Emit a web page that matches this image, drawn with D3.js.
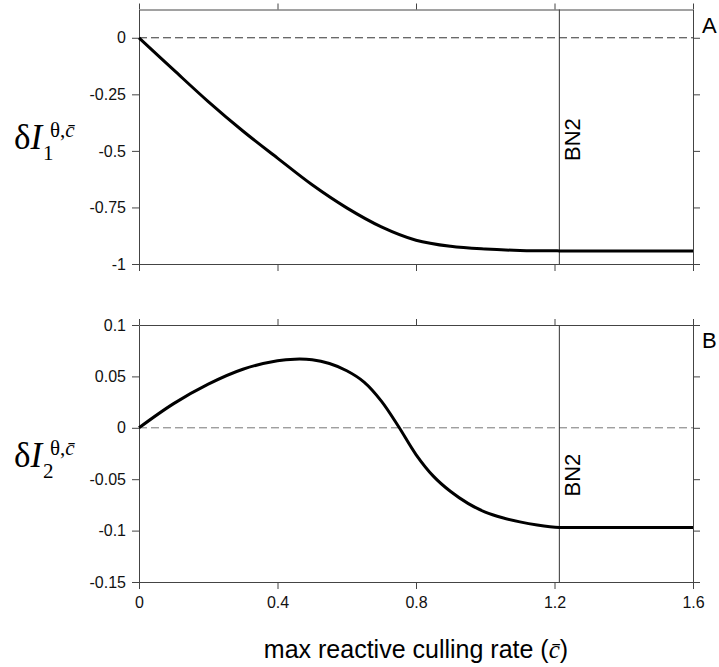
<!DOCTYPE html>
<html>
<head>
<meta charset="utf-8">
<script src="https://cdn.jsdelivr.net/npm/d3@7"></script>
<style>
  body { margin: 0; background: #fff; }
  svg { display: block; }
  .tick text { font-family: "Liberation Sans", Arial, sans-serif; font-size: 16px; fill: #111; }
  .serif { font-family: "Liberation Serif", "Times New Roman", serif; }
  .sans { font-family: "Liberation Sans", Arial, sans-serif; }
</style>
</head>
<body>
<svg id="chart" width="719" height="667"></svg>
<script>
// max reactive culling rate (c bar) and the two responses
var cbarA = [0, 0.1, 0.2, 0.3, 0.4, 0.5, 0.6, 0.7, 0.8, 0.9, 1.0, 1.1, 1.214, 1.24, 1.6];
var dI1 = [0, -0.142, -0.282, -0.412, -0.532, -0.65, -0.752, -0.836, -0.895, -0.922, -0.934, -0.94, -0.942, -0.942, -0.942];

var cbarB = [0, 0.1, 0.2, 0.3, 0.4, 0.45, 0.5, 0.55, 0.6, 0.65, 0.7, 0.75, 0.8, 0.85, 0.9, 0.95, 1.0, 1.05, 1.1, 1.15, 1.214, 1.23, 1.6];
var dI2 = [0, 0.0235, 0.0425, 0.057, 0.0652, 0.0668, 0.0662, 0.0625, 0.0555, 0.0445, 0.026, 0.001, -0.026, -0.047, -0.062, -0.0735, -0.082, -0.0875, -0.0915, -0.0945, -0.097, -0.097, -0.097];

var xTicks = [0, 0.4, 0.8, 1.2, 1.6];
var yTicksA = [0, -0.25, -0.5, -0.75, -1];
var yTicksB = [0.1, 0.05, 0, -0.05, -0.1, -0.15];
var bn2 = 1.214;          // bifurcation point
var bn2LabelY = [-0.45, -0.046];

var svg = d3.select("#chart");
var axisColor = "#444";

var x = d3.scaleLinear().domain([0, 1.6]).range([139, 693]);
var yA = d3.scaleLinear().domain([-1, 0.125]).range([264, 9.5]);
var yB = d3.scaleLinear().domain([-0.15, 0.1]).range([582, 325]);

var fmt = function (d) { return d === 0 ? "0" : String(d); };

function drawPanel(y, yTicks, xs, ys, letter, labelY, showX, sub) {
    var g = svg.append("g");
    var r = y.range();
    var top = r[1], bottom = r[0];

    // zero line
    g.append("line")
        .attr("x1", x(0)).attr("x2", x(1.6))
        .attr("y1", y(0)).attr("y2", y(0))
        .attr("stroke", letter == "A" ? "#333" : "#777")
        .attr("stroke-width", 1)
        .attr("stroke-dasharray", "8,4");

    // BN2 line + label
    g.append("line")
        .attr("x1", x(bn2)).attr("x2", x(bn2))
        .attr("y1", top).attr("y2", bottom)
        .attr("stroke", "#333").attr("stroke-width", 1);
    g.append("text")
        .attr("class", "sans")
        .attr("transform", "translate(" + (x(bn2) + 21) + "," + y(labelY) + ") rotate(-90)")
        .attr("text-anchor", "middle")
        .attr("font-size", 22)
        .text("BN2");

    // axes
    var left = d3.axisLeft(y).tickValues(yTicks).tickFormat(fmt).tickSize(7).tickSizeOuter(0).tickPadding(6);
    var right = d3.axisRight(y).tickValues(yTicks).tickFormat("").tickSize(7).tickSizeOuter(0);
    var topAx = d3.axisTop(x).tickValues(xTicks).tickFormat("").tickSize(6).tickSizeOuter(0);
    var botAx = d3.axisBottom(x).tickValues(xTicks).tickFormat(showX ? fmt : "").tickSize(7).tickSizeOuter(0).tickPadding(8);

    g.append("g").attr("transform", "translate(" + x(0) + ",0)").call(left);
    g.append("g").attr("transform", "translate(" + x(1.6) + ",0)").call(right);
    g.append("g").attr("transform", "translate(0," + top + ")").call(topAx);
    g.append("g").attr("transform", "translate(0," + bottom + ")").call(botAx);
    g.selectAll(".domain, .tick line").attr("stroke", axisColor);

    // curve
    var line = d3.line()
        .x(function (d, i) { return x(xs[i]); })
        .y(function (d) { return y(d); })
        .curve(d3.curveCatmullRom.alpha(0.5));
    g.append("path")
        .datum(ys)
        .attr("d", line)
        .attr("fill", "none")
        .attr("stroke", "#000")
        .attr("stroke-width", 3);

    // panel letter
    g.append("text")
        .attr("class", "sans")
        .attr("x", 702).attr("y", top + 23)
        .attr("font-size", 22)
        .text(letter);

    // y label: delta I_sub ^ theta, c-bar
    var by = letter == "A" ? 149 : 467;
    g.append("text").attr("class", "serif")
        .attr("x", 14).attr("y", by).attr("font-size", 35)
        .html('δ<tspan font-style="italic">I</tspan>');
    g.append("text").attr("class", "serif")
        .attr("x", 43).attr("y", by + 11).attr("font-size", 21)
        .text(sub);
    g.append("text").attr("class", "serif")
        .attr("x", 50).attr("y", by - 12).attr("font-size", 21)
        .html('θ,<tspan font-style="italic">c\u0304</tspan>');
}

drawPanel(yA, yTicksA, cbarA, dI1, "A", bn2LabelY[0], false, "1");
drawPanel(yB, yTicksB, cbarB, dI2, "B", bn2LabelY[1], true, "2");

svg.append("text")
    .attr("class", "sans")
    .attr("x", (x(0) + x(1.6)) / 2)
    .attr("y", 658)
    .attr("text-anchor", "middle")
    .attr("font-size", 25)
    .html('max reactive culling rate (<tspan class="serif" font-style="italic">c\u0304</tspan>)');
</script>
</body>
</html>
